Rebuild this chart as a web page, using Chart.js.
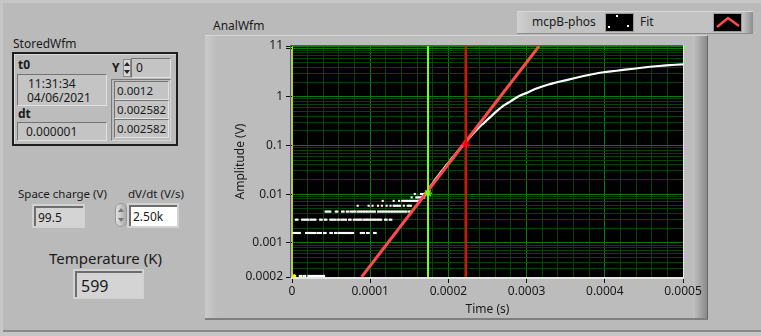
<!DOCTYPE html>
<html><head><meta charset="utf-8">
<script src="https://cdn.jsdelivr.net/npm/chart.js@4.4.1/dist/chart.umd.min.js"></script>
<style>
html,body{margin:0;padding:0;}
body{width:761px;height:336px;position:relative;overflow:hidden;background:#c6c6c6;font-family:"Noto Sans",sans-serif;font-size:12px;color:#1a1a1a;}
.a{position:absolute;}
#panel{left:3px;top:3px;width:758px;height:327px;background:#bababa;border-bottom:2px solid #8a8a8a;}
.lbl{position:absolute;white-space:nowrap;line-height:16px;height:16px;}
.b{font-weight:bold;}
.ind{position:absolute;box-sizing:border-box;background:#cfcfcf;border-top:1px solid #747474;border-left:1px solid #747474;border-bottom:1px solid #e2e2e2;border-right:1px solid #e2e2e2;white-space:nowrap;}
.ind2{position:absolute;box-sizing:border-box;background:#c9c9c9;border:2px solid #d2d2d2;}
.ind2 .in{position:absolute;left:0;top:0;right:0;bottom:0;background:#d4d4d4;border-top:2px solid #6e6e6e;border-left:2px solid #6e6e6e;box-sizing:border-box;white-space:nowrap;}
#graph{left:205px;top:35px;width:503px;height:285px;box-sizing:border-box;background:#bcbcbc;border-top:1px solid #d6d6d6;border-bottom:2px solid #7e7e7e;border-right:1px solid #666;}
#gl{left:0;top:0;width:12px;height:100%;background:linear-gradient(to right,#cbcbcb,#bcbcbc);}
#gr{right:0;top:0;width:14px;height:100%;background:linear-gradient(to right,#c2c2c2,#8a8a8a);}
#legend{left:517px;top:11px;width:236px;height:23px;box-sizing:border-box;background:#c2c2c2;border-top:1px solid #d8d8d8;border-bottom:1px solid #8c8c8c;}
#legl{left:0;top:0;width:14px;height:100%;background:linear-gradient(to right,#d0d0d0,#c2c2c2);}
#legr{right:0;top:0;width:10px;height:100%;background:linear-gradient(to right,#c2c2c2,#8e8e8e);}
.sw{position:absolute;top:1px;width:29px;height:19px;box-sizing:border-box;background:#000;border:1px solid #9a9a9a;}
#chartwrap{position:absolute;left:0;top:0;width:761px;height:336px;}
.up{width:0;height:0;border-left:3px solid transparent;border-right:3px solid transparent;border-bottom:4px solid #222;position:absolute;}
.dn{width:0;height:0;border-left:3px solid transparent;border-right:3px solid transparent;border-top:4px solid #222;position:absolute;}
.sm{font-size:11.5px;}
</style>
</head>
<body>
<div id="panel" class="a"></div>

<!-- left cluster -->
<div class="lbl" style="left:13px;top:36px;">StoredWfm</div>
<div class="a" style="left:12px;top:52px;width:166px;height:94px;box-sizing:border-box;border:2px solid #1e1e1e;background:#bcbcbc;box-shadow:inset 1px 1px 0 #d8d8d8;"></div>
<div class="lbl b" style="left:18px;top:57px;">t0</div>
<div class="ind" style="left:17px;top:74px;width:90px;height:32px;background:#c4c4c4;">
  <div class="lbl" style="left:10px;top:1px;">11:31:34</div>
  <div class="lbl" style="left:9px;top:15px;">04/06/2021</div>
</div>
<div class="lbl b" style="left:18px;top:106px;">dt</div>
<div class="ind" style="left:17px;top:122px;width:90px;height:19px;background:#c4c4c4;">
  <div class="lbl" style="left:8px;top:1px;">0.000001</div>
</div>
<div class="lbl b" style="left:112px;top:60px;">Y</div>
<div class="a" style="left:123px;top:59px;width:8px;height:18px;background:#d8d8d8;border:1px solid #8a8a8a;box-sizing:border-box;">
  <div class="up" style="left:0px;top:2px;"></div><div class="dn" style="left:0px;top:10px;"></div>
</div>
<div class="ind" style="left:131px;top:58px;width:40px;height:20px;background:#c4c4c4;">
  <div class="lbl" style="left:4px;top:1px;">0</div>
</div>
<div class="a" style="left:111px;top:79px;width:60px;height:62px;box-sizing:border-box;border:1px solid #d6d6d6;border-top-color:#7a7a7a;border-left-color:#7a7a7a;"></div>
<div class="ind" style="left:114px;top:81px;width:55px;height:19px;background:#c4c4c4;"><div class="lbl sm" style="left:2px;top:1px;">0.0012</div></div>
<div class="ind" style="left:114px;top:100px;width:55px;height:19px;background:#c4c4c4;"><div class="lbl sm" style="left:2px;top:1px;">0.002582</div></div>
<div class="ind" style="left:114px;top:119px;width:55px;height:19px;background:#c4c4c4;"><div class="lbl sm" style="left:2px;top:1px;">0.002582</div></div>

<!-- bottom left indicators -->
<div class="lbl sm" style="left:18px;top:186px;">Space charge (V)</div>
<div class="ind2" style="left:32px;top:204px;width:53px;height:24px;"><div class="in"><div class="lbl" style="left:2px;top:2px;">99.5</div></div></div>
<div class="lbl sm" style="left:128px;top:186px;">dV/dt (V/s)</div>
<div class="a" style="left:115px;top:203px;width:12px;height:24px;border-radius:6px;background:linear-gradient(to right,#e2e2e2,#a8a8a8);border:1px solid #9a9a9a;box-sizing:border-box;">
  <div class="up" style="left:2px;top:4px;border-bottom-color:#777;"></div><div class="dn" style="left:2px;top:14px;border-top-color:#777;"></div>
</div>
<div class="ind2" style="left:127px;top:203px;width:52px;height:25px;"><div class="in" style="background:#ffffff;"><div class="lbl" style="left:2px;top:2px;">2.50k</div></div></div>
<div class="lbl" style="left:49px;top:248px;font-size:15px;line-height:20px;height:20px;">Temperature (K)</div>
<div class="ind2" style="left:73px;top:269px;width:71px;height:30px;"><div class="in"><div class="lbl" style="left:4px;top:3px;font-size:16px;line-height:20px;height:20px;">599</div></div></div>

<!-- graph -->
<div class="lbl" style="left:213px;top:18px;">AnalWfm</div>
<div id="graph" class="a"><div id="gl" class="a"></div><div id="gr" class="a"></div></div>
<div id="legend" class="a">
  <div id="legl" class="a"></div><div id="legr" class="a"></div>
  <div class="lbl" style="left:15px;top:2px;">mcpB-phos</div>
  <div class="sw" style="left:88px;">
    <div class="a" style="left:10px;top:1px;width:2px;height:2px;background:#fff;"></div>
    <div class="a" style="left:2px;top:12px;width:2px;height:2px;background:#fff;"></div>
    <div class="a" style="left:21px;top:11px;width:2px;height:2px;background:#fff;"></div>
  </div>
  <div class="lbl" style="left:123px;top:2px;">Fit</div>
  <div class="sw" style="left:196px;">
    <svg width="27" height="17" style="position:absolute;left:0;top:0;"><polyline points="3,13 14,4 25,12" fill="none" stroke="#ff4a4a" stroke-width="2.5"/></svg>
  </div>
</div>

<div id="chartwrap"><canvas id="c" width="761" height="336"></canvas></div>

<script>
// ---- axis ticks ----
const xMajorTicks = [0, 0.0001, 0.0002, 0.0003, 0.0004, 0.0005];
const xTickLabels = ['0', '0.0001', '0.0002', '0.0003', '0.0004', '0.0005'];
const xMinorPerMajor = 5;
const yMajorTicks = [0.0002, 0.001, 0.01, 0.1, 1, 10, 11];
const yTickLabels = ['0.0002', '0.001', '0.01', '0.1', '1', '', '11'];
const yMinorFactors = [2, 3, 4, 5, 6, 7, 8, 9];

// ---- mcpB-phos: quantised noise samples (time in µs, per level) ----
const noiseLevels = [0.00021, 0.0016, 0.003, 0.0044, 0.0058, 0.0073, 0.0086, 0.0101];
const lvl0Us = [2,4,10,12,15,17,21,23,25,27,29,31,33,35,37,39,41];
const lvl1Us = [1,3,5,7,9,10,18,20,22,24,26,28,30,33,35,37,41,43,49,51,55,57,60,62,64,66,68,70,72,74,76,78,88,90,92,96,98,105,107];
const lvl2Us = [5,7,13,15,17,19,21,24,26,28,30,36,38,42,44,49,51,53,55,58,60,63,65,67,69,73,75,79,81,83,85,87,89,92,94,96,98,100,102,104,106,108,110,112,114,119,121,125,127];
const lvl3Us = [43,45,47,49,56,58,64,66,70,72,75,77,79,81,84,86,88,90,92,94,96,98,100,102,104,106,110,112,114,116,118,120,122,124,126,128,130,132,134,136,138,140,142,144,146,149,151];
const lvl4Us = [84,98,103,110,115,121,126,130,132,134,136,138,143,148,150,152];
const lvl5Us = [116,130,137,141,143,145,147,149,151,153,155,157,159,161,163];
const lvl6Us = [153,159,161,163,165,167,169];
const lvl7Us = [157,165,167,169];

// ---- mcpB-phos: rising part (time in µs, amplitude V) ----
const curveUs = [166,170,173,176,180,183,187,190,194,197,201,204,208,211,215,218,221,224,228,231,235,238,242,245,250,255,260,265,270,277,284,291,300,310,320,330,340,351,362,373,384,394,405,415,426,437,447,458,469,479,490,500];
const curveV  = [0.0088,0.0098,0.0112,0.014,0.0165,0.02,0.024,0.028,0.0335,0.039,0.046,0.054,0.063,0.074,0.087,0.1,0.112,0.128,0.15,0.172,0.2,0.225,0.26,0.285,0.34,0.4,0.48,0.56,0.65,0.76,0.9,1.05,1.2,1.42,1.62,1.82,2.01,2.2,2.43,2.66,2.9,3.11,3.27,3.42,3.59,3.76,3.94,4.13,4.28,4.42,4.53,4.63];

// ---- Fit (exponential: straight on log axis) ----
const fitUs = [89, 316];
const fitV  = [0.0002, 11];

// ---- cursors ----
const cursorTimes  = [0, 0.0001739, 0.0002225];
const cursorValues = [0.0002, 0.0105, 0.107];
const cursorColors = ['#f0f000', '#7cff10', '#ff0000'];
const cursorWidths = [1.5, 2, 2];

const US = 1e-6;
const noiseSets = [lvl0Us, lvl1Us, lvl2Us, lvl3Us, lvl4Us, lvl5Us, lvl6Us, lvl7Us];
const noisePts = [];
noiseSets.forEach((arr, i) => arr.forEach(t => noisePts.push({x: t * US, y: noiseLevels[i]})));
const curvePts = curveUs.map((t, i) => ({x: t * US, y: curveV[i]}));
const fitPts = fitUs.map((t, i) => ({x: t * US, y: fitV[i]}));

const yMin = yMajorTicks[0], yMax = yMajorTicks[yMajorTicks.length - 1];

const datasets = [];
datasets.push({
  data: cursorTimes.map((t, i) => ({x: t, y: cursorValues[i]})),
  showLine: false, pointStyle: 'star', pointRadius: 4,
  pointBorderColor: cursorColors, pointBackgroundColor: cursorColors, pointBorderWidth: 1.3,
  order: 0
});
cursorTimes.forEach((t, i) => datasets.push({
  data: [{x: t, y: yMin}, {x: t, y: yMax}],
  showLine: true, borderColor: cursorColors[i], borderWidth: cursorWidths[i], pointRadius: 0, order: 1
}));
datasets.push({data: fitPts, showLine: true, borderColor: '#ff4a4a', borderWidth: 3, pointRadius: 0, order: 2});
datasets.push({data: curvePts, showLine: true, borderColor: '#ffffff', borderWidth: 2.2, pointRadius: 0, order: 3});
datasets.push({data: noisePts, showLine: false, pointStyle: 'rect', pointRadius: 1.5,
  pointBackgroundColor: '#ffffff', pointBorderWidth: 0, order: 4});

const majorGrid = 'rgb(14,122,14)';
const minorGrid = 'rgb(9,66,9)';

const plotBg = {
  id: 'plotBg',
  beforeDraw(chart) {
    const {ctx, chartArea: a} = chart;
    ctx.save(); ctx.fillStyle = '#000';
    ctx.fillRect(a.left, a.top, a.right - a.left, a.bottom - a.top);
    ctx.restore();
  },
  afterDraw(chart) {
    const {ctx, chartArea: a} = chart;
    ctx.save();
    ctx.fillStyle = '#5a5a5a';
    ctx.fillRect(a.left - 2, a.top - 1, a.right - a.left + 3, 1);
    ctx.fillRect(a.left - 2, a.top - 1, 1, a.bottom - a.top + 2);
    ctx.fillStyle = '#e6e6e6';
    ctx.fillRect(a.left - 1, a.bottom, a.right - a.left + 2, 2);
    ctx.fillRect(a.right, a.top - 1, 1, a.bottom - a.top + 3);
    ctx.restore();
  }
};

const font = {family: '"Noto Sans", sans-serif', size: 12};
const txt = '#1a1a1a';

new Chart(document.getElementById('c'), {
  type: 'scatter',
  data: {datasets},
  plugins: [plotBg],
  options: {
    responsive: false, animation: false, devicePixelRatio: 1,
    layout: {padding: {left: 229, top: 46, right: 78, bottom: 15}},
    plugins: {legend: {display: false}, tooltip: {enabled: false}},
    scales: {
      x: {
        type: 'linear', min: xMajorTicks[0], max: xMajorTicks[xMajorTicks.length - 1],
        afterBuildTicks(s) {
          const ticks = [];
          xMajorTicks.forEach((v, i) => {
            ticks.push({value: v, isMajor: true});
            if (i < xMajorTicks.length - 1) {
              const step = (xMajorTicks[i + 1] - v) / xMinorPerMajor;
              for (let k = 1; k < xMinorPerMajor; k++) ticks.push({value: v + k * step, isMajor: false});
            }
          });
          s.ticks = ticks;
        },
        afterFit(s) { s.height = 44; },
        ticks: {
          autoSkip: false, maxRotation: 0, padding: 1, color: txt, font,
          callback(v) {
            const i = xMajorTicks.findIndex(m => Math.abs(m - v) < 1e-10);
            return i >= 0 ? xTickLabels[i] : '';
          }
        },
        grid: {
          color: c => (c.tick && c.tick.isMajor) ? majorGrid : minorGrid,
          tickColor: c => (c.tick && c.tick.isMajor) ? '#111' : 'rgba(0,0,0,0)',
          tickLength: 6, lineWidth: 1
        },
        border: {display: false},
        title: {display: true, text: 'Time (s)', color: txt, font, padding: {top: 2, bottom: 4}}
      },
      y: {
        type: 'logarithmic', min: yMin, max: yMax,
        afterBuildTicks(s) {
          const ticks = yMajorTicks.map(v => ({value: v, isMajor: true}));
          [0.0001, 0.001, 0.01, 0.1, 1].forEach(d => yMinorFactors.forEach(f => {
            const v = d * f;
            if (v > yMin * 1.0001 && v < yMax) ticks.push({value: v, isMajor: false});
          }));
          ticks.sort((p, q) => p.value - q.value);
          s.ticks = ticks;
        },
        afterFit(s) { s.width = 63; },
        ticks: {
          autoSkip: false, padding: 3, color: txt, font,
          callback(v) {
            const i = yMajorTicks.findIndex(m => Math.abs(m - v) / m < 1e-6);
            return i >= 0 ? yTickLabels[i] : '';
          }
        },
        grid: {
          color: c => (c.tick && c.tick.isMajor) ? majorGrid : minorGrid,
          tickColor: c => (c.tick && c.tick.isMajor) ? '#111' : 'rgba(0,0,0,0)',
          tickLength: 6, lineWidth: 1
        },
        border: {display: false},
        title: {display: true, text: 'Amplitude (V)', color: txt, font, padding: {top: 4, bottom: 2}}
      }
    }
  }
});
</script>
</body></html>
